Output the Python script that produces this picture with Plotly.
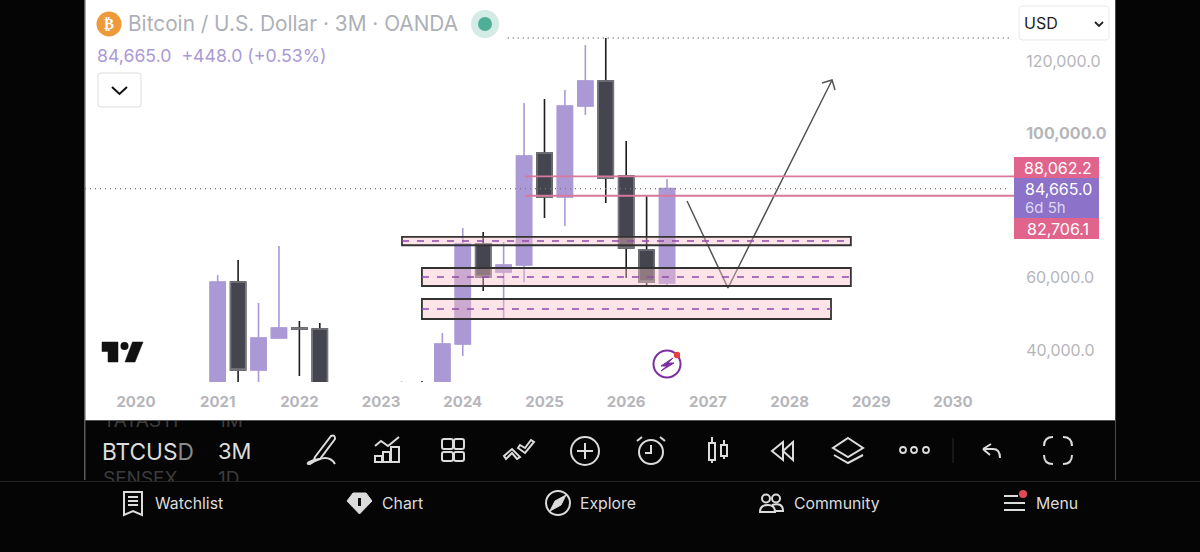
import plotly.graph_objects as go

W, H = 1200, 552
FONT = "Inter"

# ---- data ----
quarters = [2021.00, 2021.25, 2021.50, 2021.75, 2022.00, 2022.25, 2023.25, 2023.50, 2023.75,
            2024.00, 2024.25, 2024.50, 2024.75, 2025.00, 2025.25, 2025.50, 2025.75,
            2026.00, 2026.25, 2026.50]
opens  = [29000, 58827, 34469, 43326, 46094, 45818, 30000, 29500, 27000,
          41666, 69346, 61595, 63533, 94534, 82355, 107544, 114464,
          88168, 67685, 58550]
highs  = [60765, 64917, 53014, 68792, 48032, 47478, 31200, 31424, 44710,
          73774, 72667, 69899, 108374, 109482, 111973, 124430, 126367,
          97856, 82630, 87338]
lows   = [28000, 28000, 29000, 43326, 32808, 25000, 25000, 25000, 26000,
          38344, 56336, 48586, 58827, 76542, 74328, 105053, 80694,
          59934, 57720, 57720]
closes = [58827, 34469, 43326, 46094, 45818, 20000, 28000, 27000, 41666,
          69346, 60211, 63533, 93704, 82355, 107544, 114464, 87614,
          68238, 58827, 84665]

year_ticks = [2020, 2021, 2022, 2023, 2024, 2025, 2026, 2027, 2028, 2029, 2030]
price_ticks = [120000, 100000, 60000, 40000]
price_labels = ["120,000.0", "<b>100,000.0</b>", "60,000.0", "40,000.0"]

last_price = 84665.0
ath_price = 126367
level_hi = 88062.2
level_lo = 82706.1
level_start = 2024.76

zone_x0 = [2023.256, 2023.50, 2023.50]
zone_x1 = [2028.75, 2028.75, 2028.507]
zone_top = [71300, 62700, 54120]
zone_bot = [69000, 57720, 48586]
zone_mid = [70176, 60211, 51354]

path_x = [2026.745, 2027.246, 2028.52]
path_y = [81246, 57166, 114741]
head_x = [2028.397, 2028.52, 2028.556]
head_y = [113910, 114741, 111973]

X_RANGE = [2019.376, 2030.759]
Y_RANGE = [31147, 136885]

UP, DOWN = "#ab99d6", "#45454f"
LIGHT = "#dcdcdc"

# ---- pixel helpers for the app chrome ----
def X(v): return v / W
def Y(v): return 1 - v / H

def P(d):
    out, i = [], 0
    for t in d.split():
        if t.isalpha():
            out.append(t); i = 0
        else:
            out.append(f"{(X if i % 2 == 0 else Y)(float(t)):.5f}"); i += 1
    return " ".join(out)

shapes, notes = [], []

def path(d, color=LIGHT, width=2, fill=None, layer="above"):
    shapes.append(dict(type="path", xref="paper", yref="paper", path=P(d), layer=layer,
                       line=dict(color=color, width=width), fillcolor=fill or "rgba(0,0,0,0)"))

def rect(x0, y0, x1, y1, fill, color=None, width=0, layer="above"):
    shapes.append(dict(type="rect", xref="paper", yref="paper", x0=X(x0), x1=X(x1), y0=Y(y0), y1=Y(y1),
                       fillcolor=fill, layer=layer, line=dict(color=color or fill, width=width)))

def round_rect(x0, y0, x1, y1, r, fill, color, width=1):
    d = (f"M {x0+r} {y0} L {x1-r} {y0} Q {x1} {y0} {x1} {y0+r} L {x1} {y1-r} Q {x1} {y1} {x1-r} {y1} "
         f"L {x0+r} {y1} Q {x0} {y1} {x0} {y1-r} L {x0} {y0+r} Q {x0} {y0} {x0+r} {y0} Z")
    path(d, color, width, fill)

def circle(cx, cy, r, fill=None, color=None, width=0):
    shapes.append(dict(type="circle", xref="paper", yref="paper", x0=X(cx-r), x1=X(cx+r),
                       y0=Y(cy-r), y1=Y(cy+r), fillcolor=fill or "rgba(0,0,0,0)",
                       line=dict(color=color or "rgba(0,0,0,0)", width=width)))

def text(x, y, s, size, color, anchor="left", family=FONT):
    notes.append(dict(xref="paper", yref="paper", x=X(x), y=Y(y), text=s, showarrow=False,
                      xanchor=anchor, yanchor="middle", borderpad=0, borderwidth=0,
                      font=dict(family=family, size=size, color=color)))

# page panels
rect(85, 0, 1115, 420, "#ffffff", layer="below")
rect(84, 0, 85.5, 480, "#5a5a5a")
rect(1115, 0, 1116, 480, "#4a4a4a")
rect(85, 420, 1115, 421, "#555555")
rect(0, 481, 1200, 482, "#222222")

# data-bound drawings
def dshape(**k):
    shapes.append(dict(xref="x", yref="y", layer="above", **k))

for x0, x1, t, b, m in zip(zone_x0, zone_x1, zone_top, zone_bot, zone_mid):
    dshape(type="rect", x0=x0, x1=x1, y0=b, y1=t, fillcolor="rgba(248,190,200,0.42)",
           line=dict(color="#333333", width=1.8))
    dshape(type="line", x0=x0, x1=x1, y0=m, y1=m, line=dict(color="#8e4aa8", width=1.6, dash="7px,8px"))

dshape(type="line", x0=X_RANGE[0], x1=2030.70, y0=last_price, y1=last_price,
       line=dict(color="#777777", width=1.4, dash="1px,4px"))
dshape(type="line", x0=2024.55, x1=2030.70, y0=ath_price, y1=ath_price,
       line=dict(color="#777777", width=1.4, dash="1px,4px"))
for lv in (level_hi, level_lo):
    dshape(type="line", x0=level_start, x1=X_RANGE[1], y0=lv, y1=lv, line=dict(color="#d8789a", width=1.8))

fig = go.Figure()
fig.add_trace(go.Candlestick(
    x=quarters, open=opens, high=highs, low=lows, close=closes, hoverinfo="skip", showlegend=False,
    increasing=dict(line=dict(color=UP, width=1.6), fillcolor=UP),
    decreasing=dict(line=dict(color="#1c1c20", width=1.6), fillcolor=DOWN),
    whiskerwidth=0))
fig.add_trace(go.Candlestick(
    x=quarters, open=opens, close=closes, hoverinfo="skip", showlegend=False,
    high=[max(o, c) for o, c in zip(opens, closes)], low=[min(o, c) for o, c in zip(opens, closes)],
    increasing=dict(line=dict(color=UP, width=1.2), fillcolor=UP),
    decreasing=dict(line=dict(color="#77777d", width=1.4), fillcolor=DOWN),
    whiskerwidth=0))
fig.add_trace(go.Scatter(x=path_x, y=path_y, mode="lines", hoverinfo="skip", showlegend=False,
                         line=dict(color="#555555", width=1.5)))
fig.add_trace(go.Scatter(x=head_x, y=head_y, mode="lines", hoverinfo="skip", showlegend=False,
                         line=dict(color="#555555", width=1.5)))

# watchlist rows scrolled behind the toolbar (clipped by their own small subplot)
fig.add_trace(go.Scatter(x=[103, 218, 103, 218], y=[422, 422, 480, 480],
                         text=["TATASTI", "1M", "SENSEX", "1D"], mode="text", textposition="middle right",
                         textfont=dict(family=FONT, size=19, color="#3c3c3c"),
                         hoverinfo="skip", showlegend=False, xaxis="x2", yaxis="y2", cliponaxis=True))

# header
circle(109, 24, 12.5, "#ee9a3a")
text(109, 24, "<b>₿</b>", 15, "#ffffff", "center", "DejaVu Sans")
text(128, 24, "Bitcoin / U.S. Dollar · 3M · OANDA", 20.8, "#aeb0b8")
circle(485, 24, 14, "#d3ebe5")
circle(485, 24, 7, "#4fae96")
text(97, 55, "84,665.0  +448.0 (+0.53%)", 17.7, "#ab9ad4")
round_rect(98, 73, 141, 107, 3, "#ffffff", "#dddddd")
path("M 112 87 L 119.5 94 L 127 87", "#111111", 2)
round_rect(1019, 6, 1109, 40, 4, "#ffffff", "#e8e8e8")
text(1024, 23, "USD", 16, "#222222")
path("M 1095 22 L 1099 26 L 1103 22", "#222222", 1.8)

# price tags
rect(1014, 157, 1099, 178, "#e0648c")
rect(1014, 178, 1099, 218, "#8c72c8")
rect(1014, 218, 1099, 239, "#e0648c")
text(1058, 167.5, "88,062.2", 16, "#ffffff", "center")
text(1058, 188.5, "84,665.0", 16, "#ffffff", "center")
text(1025, 207, "6d 5h", 15, "#ddd6f0")
text(1058, 228.5, "82,706.1", 16, "#ffffff", "center")

# TradingView mark
path("M 102 342 L 118 342 L 118 362 L 108 362 L 108 351.5 L 102 351.5 Z", "#111111", 0.5, "#111111")
circle(124.5, 346, 4, "#111111")
path("M 132.5 342 L 143 342 L 135 362 L 125 362 Z", "#111111", 0.5, "#111111")

# flash badge
circle(667, 364, 13.5, None, "#7b2fa0", 2)
path("M 673 358 L 661 366 L 667 366 L 661 371 L 674 363 L 668 363 Z", "#7b2fa0", 1, "#7b2fa0")
circle(677, 355, 3.2, "#e04040")

# toolbar
text(102, 451, 'BTCUS<span style="color:#8a8a8a">D</span>', 22.7, LIGHT)
text(218, 451, "3M", 22, LIGHT)
path("M 315 457 L 331 436 Q 335 434 335 439 L 320 459 L 314 460 Z")
path("M 314 460 Q 304 464 310 464 Q 328 452 335 464")
path("M 375 462 L 375 456 L 382 456 L 382 462 Z M 383 462 L 383 452 L 390 452 L 390 462 Z M 391 462 L 391 447 L 399 447 L 399 462 Z")
path("M 375 446 L 381 441 L 388 446 L 399 437")
for gx0, gx1 in ((442, 453), (454, 464)):
    for gy0, gy1 in ((439, 449), (452, 461)):
        round_rect(gx0, gy0, gx1, gy1, 2, "rgba(0,0,0,0)", LIGHT, 2)
path("M 504 456 L 512 449 L 520 457 L 517 459 L 512 453 L 506 459 Z")
path("M 518 448 L 525 453 L 534 442 L 531 440 L 525 448 L 520 445 Z")
circle(585, 451, 14, None, LIGHT, 2)
path("M 585 443 L 585 459 M 577 451 L 593 451")
circle(651, 452, 12, None, LIGHT, 2)
path("M 651 445 L 651 453 L 645 453 M 637 441 L 642 437 M 665 441 L 660 437")
path("M 709 443 L 715 443 L 715 460 L 709 460 Z M 712 437 L 712 443 M 712 460 L 712 463")
path("M 721 445 L 727 445 L 727 456 L 721 456 Z M 724 440 L 724 445 M 724 456 L 724 459")
path("M 783 442 L 772 451 L 783 460 Z M 793 442 L 783 451 L 793 460 Z")
path("M 848 438 L 863 448 L 848 457 L 833 448 Z M 834 455 L 848 463 L 863 455")
for dx in (903, 914, 926):
    circle(dx, 450, 3, None, LIGHT, 1.8)
path("M 953 438 L 953 463", "#222222", 1.2)
path("M 983 449 L 991 444 M 983 449 L 990 455 M 983 449 L 993 449 Q 1000 449 1000 458")
path("M 1044 446 Q 1044 437 1053 437 M 1063 437 Q 1072 437 1072 446 M 1072 455 Q 1072 464 1063 464 M 1053 464 Q 1044 464 1044 455")

# bottom navigation
path("M 124 492 L 142 492 L 142 515 L 133 511 L 124 515 Z M 128 497 L 138 497 M 128 501 L 138 501 M 128 505 L 138 505")
text(155, 503, "Watchlist", 15.8, LIGHT)
path("M 353 493 L 366 493 L 372 501 L 359.5 514 L 347 501 Z", LIGHT, 1, LIGHT)
path("M 359.5 498 L 359.5 506", "#111111", 3)
text(382, 503, "Chart", 15.8, LIGHT)
circle(558, 503, 12, None, LIGHT, 2)
path("M 566 495 L 561 505 L 550 511 L 555 501 Z", LIGHT, 1, LIGHT)
text(580, 503, "Explore", 15.8, LIGHT)
circle(766, 498.5, 4, None, LIGHT, 2)
circle(776, 498.5, 4, None, LIGHT, 2)
path("M 760 512 Q 760 505 768 505 Q 775 505 775 512 Z")
path("M 772 505 Q 783 502 783 511 L 775 511")
text(794, 503, "Community", 15.8, LIGHT)
path("M 1004 496 L 1018 496 M 1004 503 L 1025 503 M 1004 510 L 1025 510", LIGHT, 2)
circle(1023, 494, 4, "#e04a55")
text(1036, 503, "Menu", 15.8, LIGHT)

axis_font = dict(family=FONT, size=16, color="#b6b6ba")
fig.update_layout(
    width=W, height=H, autosize=False,
    margin=dict(l=0, r=0, t=0, b=0),
    paper_bgcolor="#050505", plot_bgcolor="rgba(0,0,0,0)",
    showlegend=False, shapes=shapes, annotations=notes, boxgap=0.26, boxgroupgap=0,
    xaxis=dict(domain=[X(85), X(1015)], range=X_RANGE, tickvals=year_ticks,
               ticktext=[f"<b>{y}</b>" for y in year_ticks],
               tickfont=dict(family=FONT, size=15, color="#b6b6ba"),
               ticks="outside", ticklen=6, tickcolor="rgba(0,0,0,0)", showgrid=False, zeroline=False,
               showline=False, rangeslider=dict(visible=False)),
    yaxis=dict(domain=[Y(382), 1], range=Y_RANGE, side="right", tickvals=price_ticks, ticktext=price_labels,
               tickfont=axis_font, ticks="outside", ticklen=7, tickcolor="rgba(0,0,0,0)",
               showgrid=False, zeroline=False, showline=False),
    xaxis2=dict(domain=[X(85), X(1115)], range=[85, 1115], visible=False, anchor="y2"),
    yaxis2=dict(domain=[Y(481), Y(421)], range=[481, 421], visible=False, anchor="x2"),
)
fig.write_html("out.html", config=dict(displayModeBar=False),
               post_script="document.body.style.margin='0';document.body.style.background='#050505';")
